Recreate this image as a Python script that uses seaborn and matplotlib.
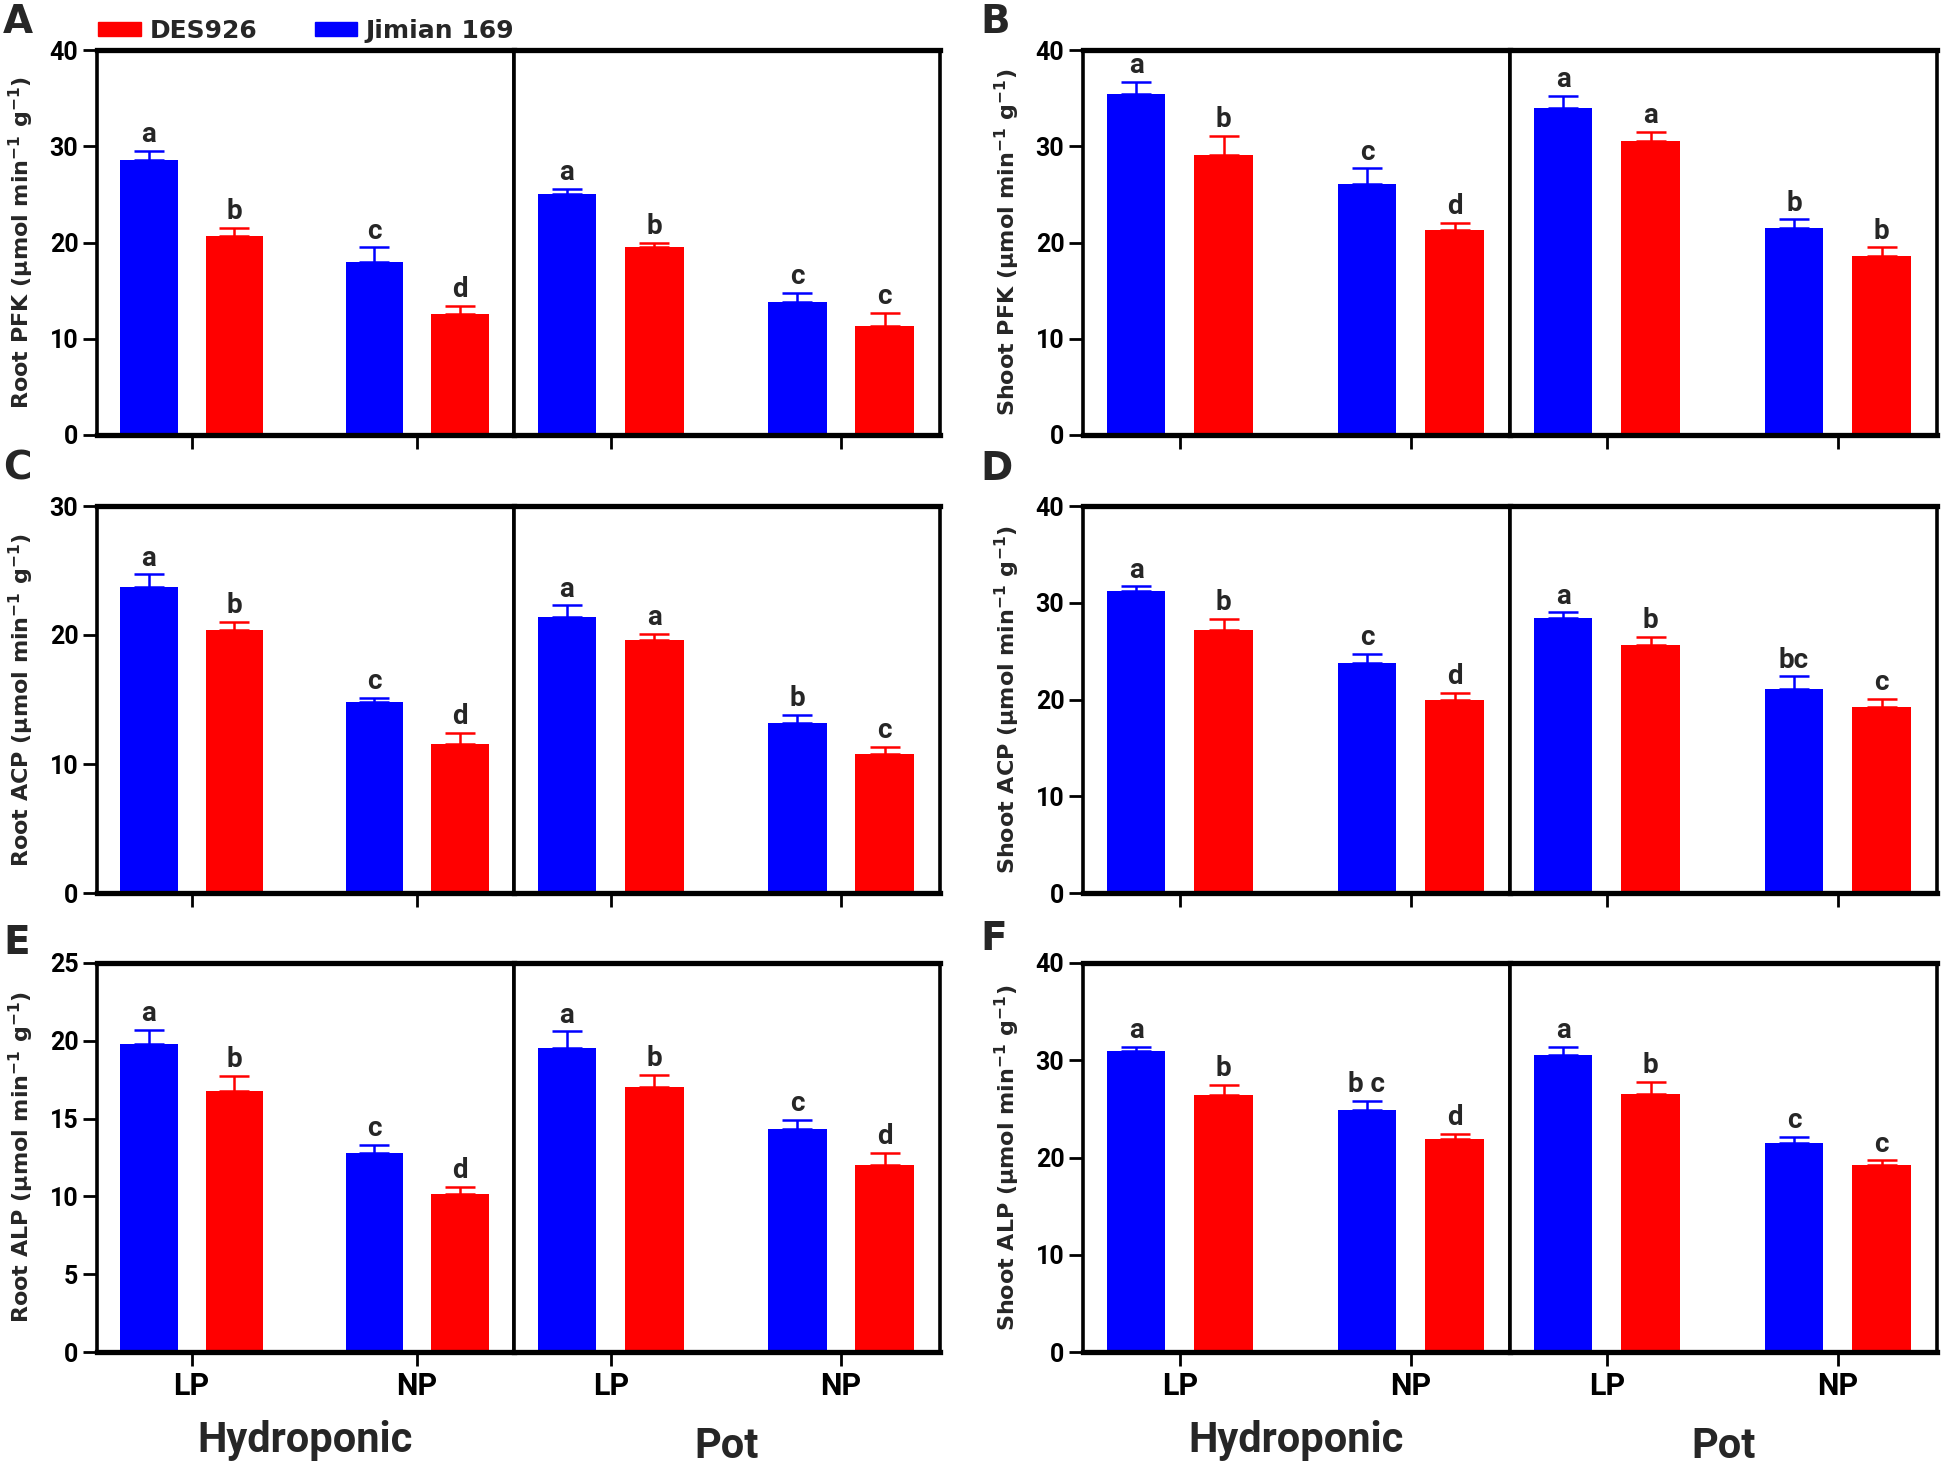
import numpy as np
import pandas as pd
import matplotlib
matplotlib.use("Agg")
import matplotlib.pyplot as plt
from matplotlib import font_manager
from matplotlib.patches import Patch
import seaborn as sns

# values in order: Hydro-LP (J, D), Hydro-NP (J, D), Pot-LP (J, D), Pot-NP (J, D)
systems = ["Hydroponic", "Pot"]
conditions = ["LP", "NP"]
cultivars = ["Jimian 169", "DES926"]

root_pfk = [28.6, 20.7, 18.0, 12.6, 25.0, 19.5, 13.8, 11.3]
root_pfk_se = [0.9, 0.8, 1.5, 0.8, 0.6, 0.5, 1.0, 1.4]
root_pfk_sig = ["a", "b", "c", "d", "a", "b", "c", "c"]

shoot_pfk = [35.4, 29.05, 26.1, 21.3, 34.0, 30.5, 21.5, 18.6]
shoot_pfk_se = [1.3, 2.05, 1.6, 0.7, 1.2, 1.0, 0.9, 0.9]
shoot_pfk_sig = ["a", "b", "c", "d", "a", "a", "b", "b"]

root_acp = [23.7, 20.4, 14.8, 11.55, 21.4, 19.65, 13.2, 10.8]
root_acp_se = [1.0, 0.6, 0.3, 0.85, 0.9, 0.45, 0.6, 0.5]
root_acp_sig = ["a", "b", "c", "d", "a", "a", "b", "c"]

shoot_acp = [31.2, 27.2, 23.8, 19.9, 28.45, 25.6, 21.1, 19.2]
shoot_acp_se = [0.5, 1.1, 0.9, 0.8, 0.55, 0.9, 1.3, 0.9]
shoot_acp_sig = ["a", "b", "c", "d", "a", "b", "bc", "c"]

root_alp = [19.8, 16.8, 12.8, 10.15, 19.55, 17.05, 14.35, 12.05]
root_alp_se = [0.9, 0.95, 0.5, 0.45, 1.05, 0.75, 0.55, 0.75]
root_alp_sig = ["a", "b", "c", "d", "a", "b", "c", "d"]

shoot_alp = [31.0, 26.4, 24.9, 21.9, 30.5, 26.5, 21.5, 19.2]
shoot_alp_se = [0.4, 1.1, 0.9, 0.5, 0.9, 1.3, 0.6, 0.5]
shoot_alp_sig = ["a", "b", "b c", "d", "a", "b", "c", "c"]

panel_letters = ["A", "B", "C", "D", "E", "F"]
ylabels = ["Root PFK", "Shoot PFK", "Root ACP", "Shoot ACP", "Root ALP", "Shoot ALP"]
ymaxes = [40, 40, 30, 40, 25, 40]
ysteps = [10, 10, 10, 10, 5, 10]

colors = {"Jimian 169": "#0000FF", "DES926": "#FF0000"}

sns.set_style("ticks")


def pick_font(names):
    for n in names:
        try:
            font_manager.findfont(font_manager.FontProperties(family=n), fallback_to_default=False)
            return n
        except ValueError:
            continue
    return "DejaVu Sans"


narrow = pick_font(["Liberation Sans Narrow", "Roboto", "Open Sans"])
plt.rcParams["font.family"] = ["DejaVu Sans"]
plt.rcParams["mathtext.fontset"] = "dejavusans"

W, H = 1944, 1465
fig = plt.figure(figsize=(W / 100, H / 100), dpi=100)


def box(l, r, t, b):
    return [l / W, 1 - b / H, (r - l) / W, (b - t) / H]


cols = [(97, 514, 940), (1083, 1510, 1937)]
rows = [(50, 435), (506, 893), (963, 1352)]
letter_pos = [(3, 3), (980, 3), (3, 450), (980, 450), (3, 924), (980, 920)]

means = [root_pfk, shoot_pfk, root_acp, shoot_acp, root_alp, shoot_alp]
errs = [root_pfk_se, shoot_pfk_se, root_acp_se, shoot_acp_se, root_alp_se, shoot_alp_se]
sigs = [root_pfk_sig, shoot_pfk_sig, root_acp_sig, shoot_acp_sig, root_alp_sig, shoot_alp_sig]

for p in range(6):
    r, c = divmod(p, 2)
    l, mid, rt = cols[c]
    top, bot = rows[r]
    for s, sysname in enumerate(systems):
        x0, x1 = (l, mid) if s == 0 else (mid, rt)
        ax = fig.add_axes(box(x0, x1, top, bot))
        recs = []
        for k, cond in enumerate(conditions):
            for j, cv in enumerate(cultivars):
                i = s * 4 + k * 2 + j
                recs.append({"cond": cond, "cultivar": cv, "value": means[p][i],
                             "se": errs[p][i], "sig": sigs[p][i]})
        df = pd.DataFrame(recs)
        sns.barplot(data=df, x="cond", y="value", hue="cultivar", order=conditions,
                    hue_order=cultivars, palette=colors, saturation=1, width=0.76,
                    gap=0.33, errorbar=None, linewidth=0, legend=False, ax=ax)
        bar_conts = list(ax.containers)
        for j, cont in enumerate(bar_conts):
            cv = cultivars[j]
            for k, bar in enumerate(cont):
                row = df[(df["cond"] == conditions[k]) & (df["cultivar"] == cv)].iloc[0]
                xc = bar.get_x() + bar.get_width() / 2
                h = bar.get_height()
                ax.errorbar(xc, h, yerr=[[0], [row["se"]]], fmt="none", ecolor=colors[cv],
                            elinewidth=1.8, capsize=11, capthick=1.8)
                ax.annotate(row["sig"], (xc, h + row["se"]), xytext=(0, 2),
                            textcoords="offset points", ha="center", va="bottom",
                            fontsize=20, fontweight="bold", family=narrow)
        ax.set_xlim(-0.42, 1.43)
        ax.set_ylim(0, ymaxes[p])
        ax.set_yticks(np.arange(0, ymaxes[p] + 1, ysteps[p]))
        for sp in ax.spines.values():
            sp.set_visible(True)
            sp.set_linewidth(2.6)
            sp.set_color("black")
        ax.spines["bottom"].set_linewidth(3.8)
        ax.spines["top"].set_linewidth(3.8)
        ax.tick_params(direction="out", length=10, width=2, colors="black")
        for lab in ax.get_yticklabels():
            lab.set_fontsize(18)
            lab.set_fontweight("bold")
            lab.set_family(narrow)
        ax.set_ylabel("")
        ax.set_xlabel("")
        if s == 0:
            ax.set_ylabel(ylabels[p] + " (µmol min$^{\\mathbf{-1}}$ g$^{\\mathbf{-1}}$)",
                          fontsize=16, fontweight="bold")
            ax.yaxis.set_label_coords(-61 / (x1 - x0), 0.5)
        else:
            ax.tick_params(axis="y", left=False, labelleft=False)
        if r == 2:
            ax.set_xticks([0, 1])
            ax.set_xticklabels(conditions, fontsize=22, fontweight="bold", family=narrow)
            ax.set_xlabel(sysname, fontsize=30, fontweight="bold", family=narrow,
                          labelpad=14 if s == 0 else 18)
        else:
            ax.tick_params(axis="x", labelbottom=False)
    lx, ly = letter_pos[p]
    fig.text(lx / W, 1 - ly / H, panel_letters[p], fontsize=28, fontweight="bold",
             ha="left", va="top")

handles = [Patch(color=colors["DES926"], label="DES926"),
           Patch(color=colors["Jimian 169"], label="Jimian 169")]
fig.legend(handles=handles, loc="center left", bbox_to_anchor=(98 / W, 1 - 31 / H),
           ncol=2, frameon=False, prop={"weight": "bold", "size": 18},
           handlelength=1.7, handleheight=0.5, handletextpad=0.35, columnspacing=2.3,
           borderpad=0, borderaxespad=0)

fig.savefig("out.png", dpi=100)
